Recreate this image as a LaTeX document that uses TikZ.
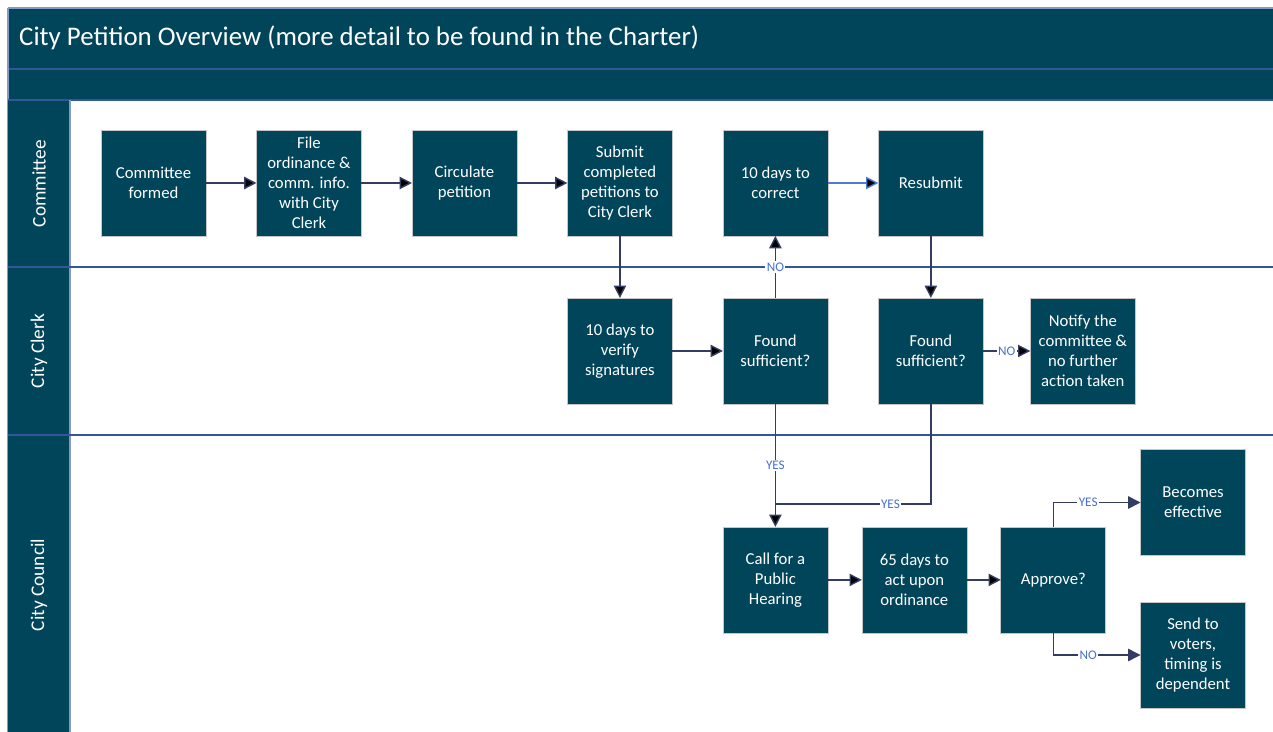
\documentclass[tikz,border=0pt]{standalone}
\usepackage{fontspec}
\setmainfont{Carlito}
\usetikzlibrary{arrows.meta, positioning}
\definecolor{petrol}{HTML}{00455A}
\definecolor{flowline}{HTML}{333D63}
\definecolor{laneline}{HTML}{34559A}
\definecolor{replyblue}{HTML}{4A6FD0}
\definecolor{lightflow}{HTML}{4F7BD8}
\tikzstyle{process}=[rectangle, fill=petrol, draw=gray!45, line width=0.4pt, outer sep=0pt, minimum width=2.1cm, minimum height=2.12cm, inner sep=0pt, align=center, text=white, font=\fontsize{9.5}{11.4}\selectfont]
\tikzstyle{flow}=[draw=flowline, line width=0.8pt, -{Triangle[length=7pt,width=7pt]}]
\tikzstyle{reply}=[fill=white, text=replyblue, inner sep=0.8pt, font=\fontsize{7.5}{8}\selectfont]
\tikzstyle{lane}=[rotate=90, text=white, font=\fontsize{11}{13}\selectfont]

\begin{document}
\begin{tikzpicture}[x=0.02cm, y=-0.02cm]
  \useasboundingbox (0,0) rectangle (1273,732);
  % frame and swimlanes
  \fill[petrol] (8,8) rectangle (1273,68);
  \fill[petrol] (8,70) rectangle (1273,99);
  \draw[laneline, line width=0.8pt] (8,69) -- (1273,69);
  \draw[laneline!60, line width=0.6pt] (8,8) -- (1273,8);
  \draw[laneline!60, line width=0.6pt] (8,8) -- (8,732);
  \fill[petrol] (8,100) rectangle (70,732);
  \draw[laneline, line width=0.7pt] (8,100) -- (1273,100);
  \draw[laneline!60, line width=0.7pt] (70,100) -- (70,732);
  \draw[laneline, line width=0.7pt] (8,267) -- (1273,267);
  \draw[laneline, line width=0.7pt] (8,435) -- (1273,435);
  \node[anchor=west, text=white, font=\fontsize{15.3}{17}\selectfont] (title) at (13,38) {City Petition Overview (more detail to be found in the Charter)};
  \node[lane] (committeelane) at (39,183.5) {Committee};
  \node[lane] (clerklane) at (39,351) {City Clerk};
  \node[lane] (councillane) at (39,585) {City Council};

  % steps
  \node[process] (formed) at (153.5,183) {Committee\\formed};
  \node[process] (file) [right=1.01cm of formed] {File\\ordinance \&\\comm. info.\\with City\\Clerk};
  \node[process] (circulate) [right=1.01cm of file] {Circulate\\petition};
  \node[process] (submit) [right=1.01cm of circulate] {Submit\\completed\\petitions to\\City Clerk};
  \node[process] (correct) [right=1.01cm of submit] {10 days to\\correct};
  \node[process] (resubmit) [right=1.01cm of correct] {Resubmit};
  \node[process] (verify) [below=1.24cm of submit] {10 days to\\verify\\signatures};
  \node[process] (check) [below=1.24cm of correct] {Found\\sufficient?};
  \node[process] (recheck) [below=1.24cm of resubmit] {Found\\sufficient?};
  \node[process] (notify) [right=0.94cm of recheck] {Notify the\\committee \&\\no further\\action taken};
  \node[process] (hearing) [below=2.46cm of check] {Call for a\\Public\\Hearing};
  \node[process] (act) [right=0.68cm of hearing] {65 days to\\act upon\\ordinance};
  \node[process] (approve) [right=0.68cm of act] {Approve?};
  \node[process] (effective) at (1193,502.5) {Becomes\\effective};
  \node[process] (voters) at (1193,655) {Send to\\voters,\\timing is\\dependent};
  \coordinate[above=0.46cm of hearing.north] (join);

  % flows
  \path[flow] (formed) edge (file);
  \path[flow] (file) edge (circulate);
  \path[flow] (circulate) edge (submit);
  \path[flow] (submit) edge (verify);
  \path[flow] (verify) edge (check);
  \path[flow] (check) edge node[reply] {NO} (correct);
  \path[flow, draw=lightflow] (correct) edge (resubmit);
  \path[flow] (resubmit) edge (recheck);
  \path[flow] (recheck) edge node[reply] {NO} (notify);
  \path[flow] (check) edge node[reply] {YES} (hearing);
  \draw[draw=flowline, line width=0.8pt] (recheck.south) |- node[reply, pos=0.63] {YES} (join);
  \path[flow] (hearing) edge (act);
  \path[flow] (act) edge (approve);
  \draw[flow] (approve.north) |- node[reply, pos=0.7] {YES} (effective.west);
  \draw[flow] (approve.south) |- node[reply, pos=0.7] {NO} (voters.west);
\end{tikzpicture}
\end{document}
